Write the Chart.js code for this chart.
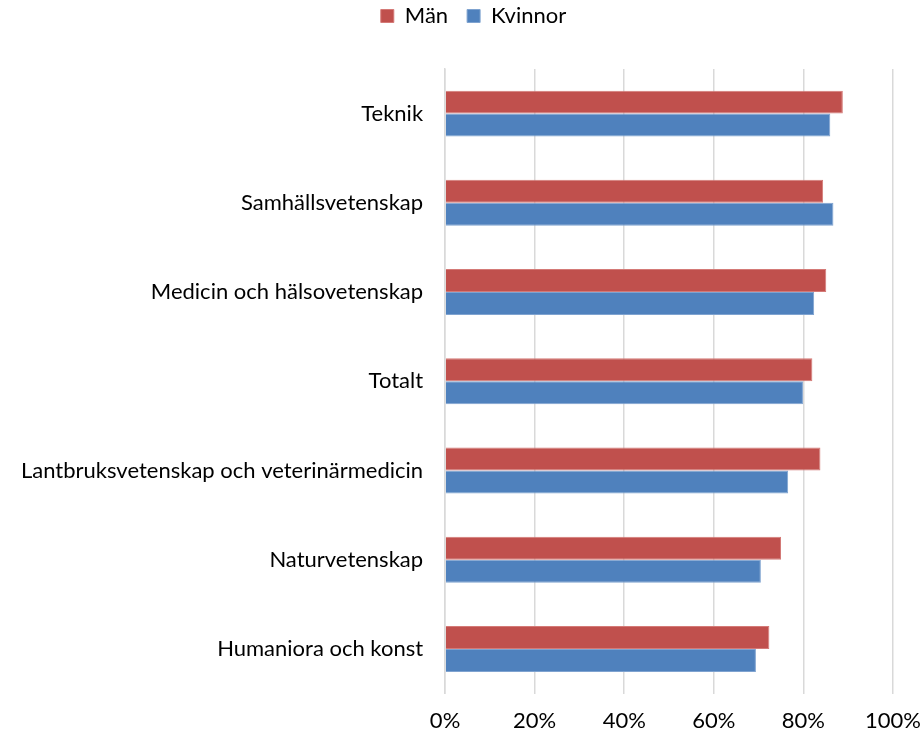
<!DOCTYPE html>
<html>
<head>
<meta charset="utf-8">
<script src="https://cdn.jsdelivr.net/npm/chart.js@4"></script>
<style>
  body { margin: 0; background: #fff; }
  #wrap { width: 924px; height: 734px; }
</style>
</head>
<body>
<div id="wrap"><canvas id="report"></canvas></div>
<script>
var labels = ["Teknik", "Samhällsvetenskap", "Medicin och hälsovetenskap", "Totalt",
  "Lantbruksvetenskap och veterinärmedicin", "Naturvetenskap", "Humaniora och konst"];
var man = [88.8, 84.4, 85.1, 82.0, 83.8, 75.0, 72.4];
var kvinnor = [86.0, 86.7, 82.4, 79.9, 76.6, 70.5, 69.4];

Chart.defaults.font.family = "Lato, 'Open Sans', sans-serif";
Chart.defaults.font.size = 22;
Chart.defaults.color = '#000';

// extra space between the legend and the plot, legend nudged right
var legendGap = {
  id: 'legendGap',
  beforeInit: function (chart) {
    var fit = chart.legend.fit;
    chart.legend.fit = function () {
      fit.call(this);
      this.height += 32;
    };
  },
  afterLayout: function (chart) {
    chart.legend.left += 12;
    chart.legend.right += 12;
  }
};

var ctx = document.getElementById("report").getContext('2d');
var myChart = new Chart(ctx, {
  type: 'bar',
  data: {
    labels: labels,
    datasets: [{
      label: 'Män',
      data: man,
      backgroundColor: '#C0504D',
      borderColor: '#D47A77',
      borderWidth: 1
    }, {
      label: 'Kvinnor',
      data: kvinnor,
      backgroundColor: '#4F81BD',
      borderColor: '#7FA3D0',
      borderWidth: 1
    }]
  },
  options: {
    indexAxis: 'y',
    responsive: true,
    maintainAspectRatio: false,
    animation: false,
    layout: { padding: { left: -1, right: 0, top: -14, bottom: -14 } },
    datasets: { bar: { categoryPercentage: 0.515, barPercentage: 1 } },
    plugins: {
      legend: {
        position: 'top',
        labels: { boxWidth: 13, boxHeight: 13, padding: 19 }
      },
      tooltip: { enabled: false }
    },
    scales: {
      x: {
        min: 0, max: 100,
        ticks: { stepSize: 20, padding: 14, callback: function (v) { return v + '%'; } },
        grid: { color: '#d9d9d9', lineWidth: 1.5, drawTicks: false },
        border: { display: false },
        afterFit: function (scale) { scale.paddingRight = 31; }
      },
      y: {
        ticks: { padding: 22 },
        grid: { display: false, drawTicks: false },
        border: { color: '#d9d9d9', width: 1.5 }
      }
    }
  },
  plugins: [legendGap]
});
</script>
</body>
</html>
